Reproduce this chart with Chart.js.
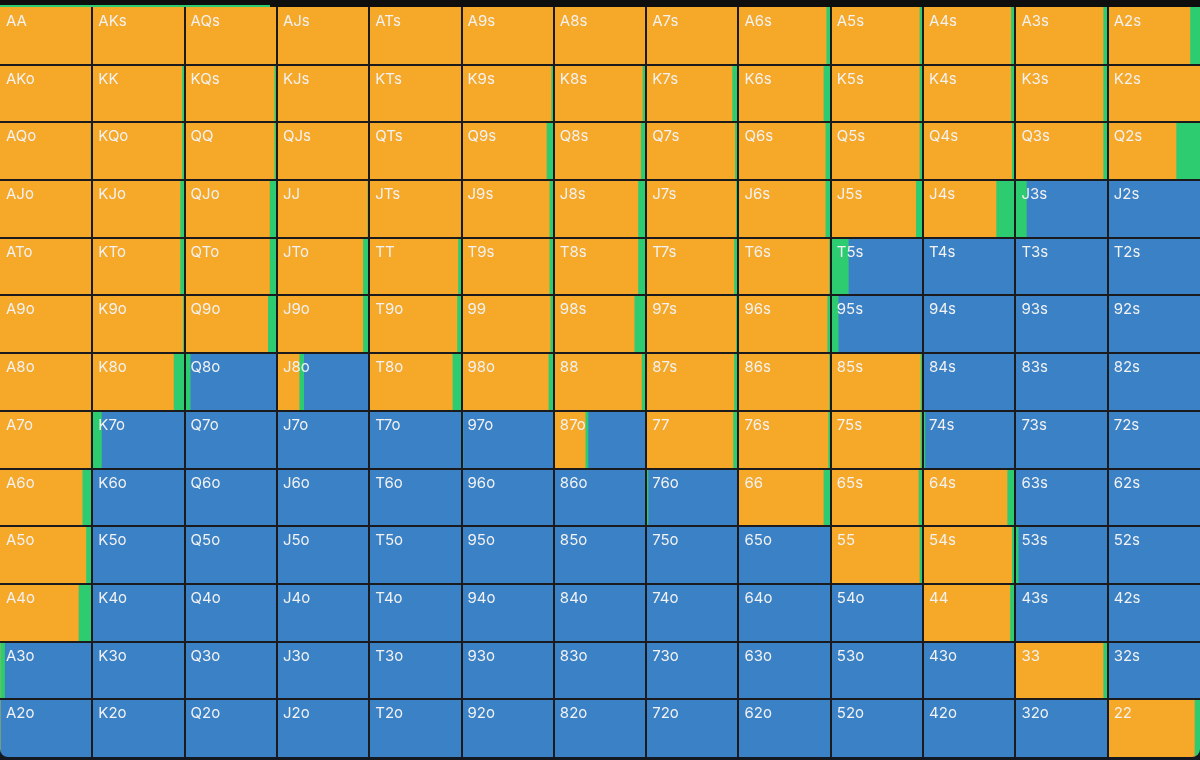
<!DOCTYPE html>
<html>
<head>
<meta charset="utf-8">
<script src="https://cdn.jsdelivr.net/npm/chart.js@4.4.1/dist/chart.umd.min.js"></script>
<style>
    html, body { margin: 0; padding: 0; background: #141820; }
    #strip { position: absolute; left: 0; top: 0; width: 1200px; height: 7px; background: #0e0e0e; }
    #progress { position: absolute; left: 0; top: 5px; width: 270px; height: 2px; background: #2ecc71; }
    #wrap { position: absolute; left: 0; top: 7px; width: 1200px; height: 750px; border-radius: 0 0 8px 8px; overflow: hidden; }
</style>
</head>
<body>
<div id="strip"><div id="progress"></div></div>
<div id="wrap"><canvas id="grid"></canvas></div>
<script>
var ranks = ['A', 'K', 'Q', 'J', 'T', '9', '8', '7', '6', '5', '4', '3', '2'];

// raise share of each hand, in percent (row = first card, col = second card)
var raisePct = [
    [99, 100, 100, 99, 99, 100, 100, 99, 95, 96, 95, 95, 89],
    [100, 97, 97, 99, 100, 97, 96, 93, 92, 96, 95, 95, 100],
    [98, 97, 97, 100, 100, 92, 94, 96, 94, 96, 96, 95, 74],
    [99, 95, 92, 98, 99, 95, 91, 97, 94, 92, 79, 0, 0],
    [99, 95, 92, 93, 96, 95, 91, 95, 98, 0, 0, 0, 0],
    [99, 98, 90, 93, 95, 96, 87, 97, 96, 0, 0, 0, 0],
    [100, 88, 0, 24, 90, 94, 95, 95, 98, 97, 0, 0, 0],
    [98, 0, 0, 0, 0, 0, 34, 94, 97, 97, 0, 0, 0],
    [89, 0, 0, 0, 0, 0, 0, 0, 92, 95, 91, 0, 0],
    [93, 0, 0, 0, 0, 0, 0, 0, 0, 96, 96, 0, 0],
    [85, 0, 0, 0, 0, 0, 0, 0, 0, 0, 94, 0, 0],
    [0, 0, 0, 0, 0, 0, 0, 0, 0, 0, 0, 95, 0],
    [0, 0, 0, 0, 0, 0, 0, 0, 0, 0, 0, 0, 94]
];

// call share of each hand, in percent
var callPct = [
    [1, 0, 0, 1, 1, 0, 0, 1, 5, 4, 5, 5, 11],
    [0, 3, 3, 1, 0, 3, 4, 7, 8, 4, 5, 5, 0],
    [2, 3, 3, 0, 0, 8, 6, 4, 6, 4, 4, 5, 26],
    [1, 5, 8, 2, 1, 5, 9, 3, 6, 8, 21, 12, 0],
    [1, 5, 8, 7, 4, 5, 9, 5, 2, 19, 0, 0, 0],
    [1, 2, 10, 7, 5, 4, 13, 3, 4, 8, 0, 0, 0],
    [0, 12, 6, 5, 10, 6, 5, 5, 2, 3, 0, 0, 0],
    [2, 10, 0, 0, 0, 1.5, 3, 6, 3, 3, 2, 0, 0],
    [10, 0, 0, 0, 0, 0, 0, 2, 8, 5, 9, 0, 0],
    [6, 0, 0, 0, 0, 0, 0, 0, 0, 4, 4, 3, 0],
    [14, 0, 0, 0, 0, 0, 0, 0, 0, 0, 6, 0, 0],
    [5, 0, 0, 0, 0, 0, 0, 0, 0, 0, 0, 4, 0],
    [0, 0, 0, 0, 0, 0, 0, 0, 0, 0, 0, 0, 6]
];

var colors = { raise: '#f6a829', call: '#2ecc71', fold: '#3b81c6' };

function handName(r, c) {
    if (r === c) return ranks[r] + ranks[c];
    if (c > r) return ranks[r] + ranks[c] + 's';
    return ranks[c] + ranks[r] + 'o';
}

// one stacked dataset per column and action, widths in units of one cell
var datasets = [];
for (var c = 0; c < 13; c++) {
    var parts = [
        { key: 'raise', vals: raisePct.map(function (row) { return row[c] / 100; }) },
        { key: 'call', vals: callPct.map(function (row) { return row[c] / 100; }) },
        { key: 'fold', vals: raisePct.map(function (row, r) { return (100 - row[c] - callPct[r][c]) / 100; }) }
    ];
    parts.forEach(function (p) {
        datasets.push({
            label: p.key + ' ' + c,
            data: p.vals,
            backgroundColor: colors[p.key],
            borderWidth: 0,
            barPercentage: 1,
            categoryPercentage: 1,
            stack: 'row'
        });
    });
}

var gridAndLabels = {
    id: 'gridAndLabels',
    afterDatasetsDraw: function (chart) {
        var ctx = chart.ctx,
            x = chart.scales.x,
            y = chart.scales.y,
            area = chart.chartArea,
            rowH = (area.bottom - area.top) / 13;

        ctx.save();
        ctx.strokeStyle = '#1b1b1d';
        ctx.lineWidth = 2;
        ctx.beginPath();
        for (var i = 1; i < 13; i++) {
            var px = Math.round(x.getPixelForValue(i));
            ctx.moveTo(px, area.top);
            ctx.lineTo(px, area.bottom);
            var py = Math.round(y.getPixelForValue(i) - rowH / 2);
            ctx.moveTo(area.left, py);
            ctx.lineTo(area.right, py);
        }
        ctx.stroke();

        ctx.fillStyle = '#f2f2f2';
        ctx.font = '15px Inter, "Open Sans", sans-serif';
        ctx.textBaseline = 'alphabetic';
        ctx.textAlign = 'left';
        for (var r = 0; r < 13; r++) {
            var top = y.getPixelForValue(r) - rowH / 2;
            for (var c = 0; c < 13; c++) {
                ctx.fillText(handName(r, c), x.getPixelForValue(c) + 6, top + 19);
            }
        }
        ctx.restore();
    }
};

new Chart(document.getElementById('grid').getContext('2d'), {
    type: 'bar',
    plugins: [gridAndLabels],
    data: {
        labels: ranks,
        datasets: datasets
    },
    options: {
        indexAxis: 'y',
        responsive: true,
        maintainAspectRatio: false,
        animation: false,
        layout: { padding: 0 },
        scales: {
            x: { type: 'linear', min: 0, max: 13, stacked: true, display: false },
            y: { stacked: true, display: false }
        },
        plugins: {
            legend: { display: false },
            tooltip: { enabled: false }
        }
    }
});
</script>
</body>
</html>
